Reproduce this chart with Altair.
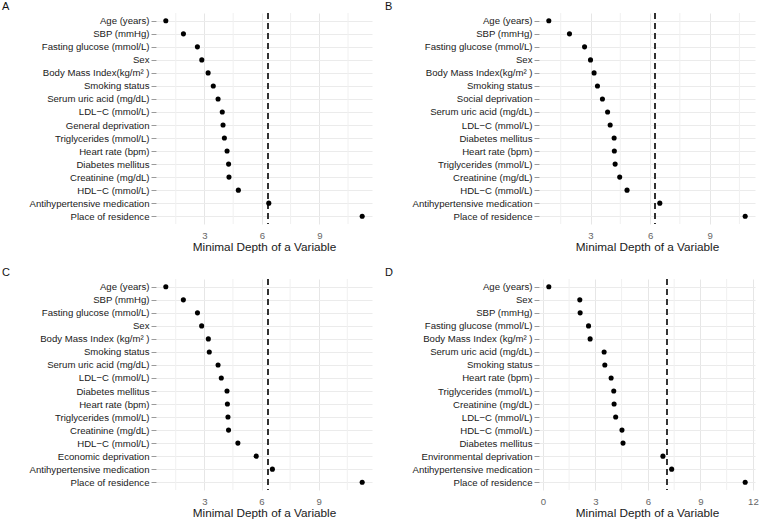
import altair as alt
import pandas as pd

# Minimal depth of each variable (random survival forest), four models.
vars_a = ["Age (years)", "SBP (mmHg)", "Fasting glucose (mmol/L)", "Sex",
          "Body Mass Index(kg/m\u00b2 )", "Smoking status", "Serum uric acid (mg/dL)",
          "LDL\u2212C (mmol/L)", "General deprivation", "Triglycerides (mmol/L)",
          "Heart rate (bpm)", "Diabetes mellitus", "Creatinine (mg/dL)",
          "HDL\u2212C (mmol/L)", "Antihypertensive medication", "Place of residence"]
depth_a = [0.98, 1.90, 2.63, 2.86, 3.19, 3.46, 3.71, 3.93, 3.97, 4.04, 4.18, 4.26,
           4.28, 4.77, 6.36, 11.24]
thr_a = 6.31

vars_b = ["Age (years)", "SBP (mmHg)", "Fasting glucose (mmol/L)", "Sex",
          "Body Mass Index(kg/m\u00b2 )", "Smoking status", "Social deprivation",
          "Serum uric acid (mg/dL)", "LDL\u2212C (mmol/L)", "Diabetes mellitus",
          "Heart rate (bpm)", "Triglycerides (mmol/L)", "Creatinine (mg/dL)",
          "HDL\u2212C (mmol/L)", "Antihypertensive medication", "Place of residence"]
depth_b = [0.90, 1.94, 2.70, 3.00, 3.18, 3.35, 3.60, 3.86, 3.99, 4.19, 4.20, 4.24,
           4.47, 4.84, 6.49, 10.79]
thr_b = 6.25

vars_c = ["Age (years)", "SBP (mmHg)", "Fasting glucose (mmol/L)", "Sex",
          "Body Mass Index (kg/m\u00b2 )", "Smoking status", "Serum uric acid (mg/dL)",
          "LDL\u2212C (mmol/L)", "Diabetes mellitus", "Heart rate (bpm)",
          "Triglycerides (mmol/L)", "Creatinine (mg/dL)", "HDL\u2212C (mmol/L)",
          "Economic deprivation", "Antihypertensive medication", "Place of residence"]
depth_c = [0.98, 1.90, 2.64, 2.86, 3.21, 3.26, 3.72, 3.89, 4.19, 4.21, 4.24, 4.27,
           4.76, 5.72, 6.57, 11.28]
thr_c = 6.35

vars_d = ["Age (years)", "Sex", "SBP (mmHg)", "Fasting glucose (mmol/L)",
          "Body Mass Index (kg/m\u00b2 )", "Serum uric acid (mg/dL)", "Smoking status",
          "Heart rate (bpm)", "Triglycerides (mmol/L)", "Creatinine (mg/dL)",
          "LDL\u2212C (mmol/L)", "HDL\u2212C (mmol/L)", "Diabetes mellitus",
          "Environmental deprivation", "Antihypertensive medication", "Place of residence"]
depth_d = [0.34, 2.11, 2.13, 2.61, 2.70, 3.50, 3.54, 3.90, 4.05, 4.07, 4.16, 4.52,
           4.58, 6.86, 7.36, 11.56]
thr_d = 7.07

FONT = "Liberation Sans"
PANEL_W = 216
PANEL_H = 211
Y_EXTENT = 154


def panel(letter, names, values, thr):
    df = pd.DataFrame({"variable": names, "depth": values})
    lo, hi = min(values), max(values)
    pad = 0.05 * (hi - lo)
    domain = [lo - pad, hi + pad]
    # labelled breaks every 3 units, minor gridlines half-way between them
    major = [float(3 * k) for k in range(-1, 6) if domain[0] <= 3 * k <= domain[1]]
    minor = [3 * k + 1.5 for k in range(-1, 6) if domain[0] <= 3 * k + 1.5 <= domain[1]]

    x_scale = alt.Scale(domain=domain, nice=False, zero=False)
    x_axis = alt.Axis(
        title="Minimal Depth of a Variable",
        values=major,
        format="d",
        grid=True,
        gridColor="#e6e6e6",
        gridWidth=1,
        ticks=False,
        tickSize=0,
        domain=False,
        labelFlush=False,
        labelOverlap=False,
        labelPadding=6,
        labelColor="#666666",
        labelFontSize=9.6,
        labelFont=FONT,
        titleFont=FONT,
        titleFontSize=11.75,
        titleFontWeight="normal",
        titleColor="#1a1a1a",
        titlePadding=2,
    )
    y_axis = alt.Axis(
        title=None,
        grid=True,
        gridColor="#ebebeb",
        ticks=True,
        tickSize=5,
        tickColor="#9a9a9a",
        domain=False,
        labelPadding=2,
        labelFontSize=9.6,
        labelFont=FONT,
        labelColor="#1a1a1a",
        labelLimit=0,
        minExtent=Y_EXTENT,
        maxExtent=Y_EXTENT,
    )

    grid = alt.Chart(pd.DataFrame({"g": minor})).mark_rule(
        color="#f0f0f0", strokeWidth=1
    ).encode(x=alt.X("g:Q", scale=x_scale, axis=x_axis))

    base = alt.Chart(df)
    pts = base.mark_circle(size=26, color="black", opacity=1).encode(
        x=alt.X("depth:Q", scale=x_scale, axis=x_axis),
        y=alt.Y("variable:N", sort=None, scale=alt.Scale(padding=0.6), axis=y_axis),
    )
    cut = base.mark_rule(color="#333333", strokeWidth=1.2, strokeDash=[6, 4]).encode(
        x=alt.datum(thr, scale=x_scale)
    )
    return alt.layer(grid, cut, pts).properties(
        width=PANEL_W,
        height=PANEL_H,
        title=alt.TitleParams(letter, anchor="start", frame="bounds", fontSize=11,
                              fontWeight="normal", font=FONT, color="#111111", offset=0),
    )


row1 = alt.hconcat(panel("A", vars_a, depth_a, thr_a), panel("B", vars_b, depth_b, thr_b),
                   spacing=13)
row2 = alt.hconcat(panel("C", vars_c, depth_c, thr_c), panel("D", vars_d, depth_d, thr_d),
                   spacing=13)

chart = alt.vconcat(row1, row2, spacing=13).properties(
    padding={"left": 2, "top": 1, "right": 0, "bottom": 0},
    background="white",
).configure_view(stroke=None)

chart.save("out.html", embed_options={"renderer": "svg", "actions": False})
